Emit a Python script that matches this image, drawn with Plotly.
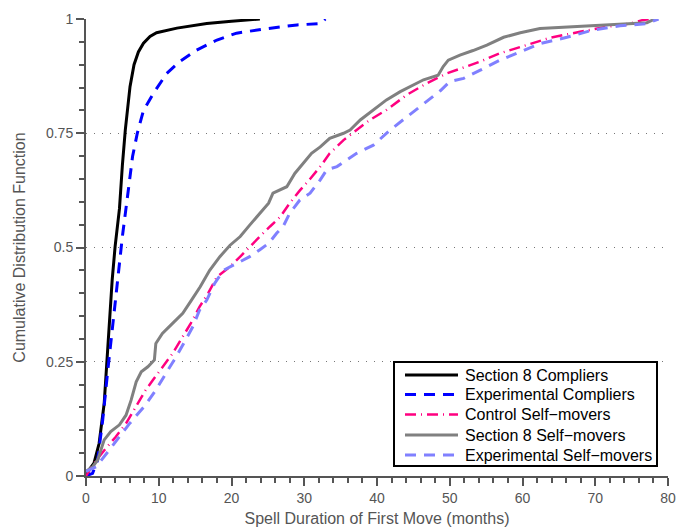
import plotly.graph_objects as go

# Section 8 Compliers
s8c_x = [0, 0.5, 1.1, 1.8, 2.5, 3.2, 3.6, 4.0, 4.6, 5.0, 5.4, 6.05, 6.6, 7.2, 7.9, 8.8, 9.7, 12.5, 16.6, 20.0, 23.9]
s8c_y = [0, 0.015, 0.028, 0.071, 0.159, 0.334, 0.429, 0.502, 0.585, 0.68, 0.757, 0.852, 0.90, 0.928, 0.947, 0.962, 0.970, 0.980, 0.990, 0.995, 1.0]

# Experimental Compliers
ec_x = [0, 0.9, 1.6, 2.3, 3.0, 3.75, 4.1, 4.6, 5.0, 5.7, 6.4, 7.05, 7.9, 9.25, 11.1, 12.9, 15.2, 18.0, 20.7, 24.4, 29.0, 32.2, 32.9]
ec_y = [0, 0.006, 0.035, 0.123, 0.232, 0.334, 0.392, 0.465, 0.524, 0.611, 0.699, 0.75, 0.80, 0.837, 0.881, 0.907, 0.932, 0.954, 0.969, 0.978, 0.987, 0.99, 1.0]

# Control Self-movers
cs_x = [0, 1.1, 2.7, 4.1, 5.5, 6.9, 8.2, 9.2, 10.5, 11.9, 13.3, 14.4, 15.6, 16.8, 18.0, 19.8, 21.2, 22.5, 23.9, 25.3, 26.7, 28.0, 29.4, 30.8, 32.2, 33.5, 35.4, 37.2, 39.0, 41.3, 44.1, 46.8, 49.6, 52.3, 54.2, 56.9, 60.6, 63.8, 67.9, 71.6, 74.8, 76.6, 77.5]
cs_y = [0, 0.028, 0.06, 0.086, 0.115, 0.152, 0.188, 0.21, 0.239, 0.268, 0.305, 0.334, 0.37, 0.40, 0.436, 0.458, 0.48, 0.502, 0.524, 0.546, 0.567, 0.597, 0.625, 0.65, 0.677, 0.706, 0.735, 0.757, 0.779, 0.801, 0.834, 0.859, 0.881, 0.896, 0.907, 0.925, 0.943, 0.959, 0.972, 0.983, 0.99, 0.998, 1.0]

# Section 8 Self-movers
s8s_x = [0, 0.9, 1.6, 2.5, 3.4, 4.6, 5.5, 6.2, 6.9, 7.6, 8.5, 9.4, 9.6, 10.5, 11.9, 13.3, 14.5, 15.7, 17.0, 18.4, 19.8, 21.2, 22.5, 23.9, 25.1, 25.7, 27.6, 28.7, 29.9, 31.0, 32.2, 33.5, 35.4, 36.3, 37.7, 39.5, 41.3, 43.2, 45.0, 46.4, 48.4, 49.1, 49.8, 51.4, 53.2, 55.1, 57.4, 59.7, 62.4, 67.0, 71.6, 76.2, 77.1, 78.2]
s8s_y = [0.01, 0.02, 0.035, 0.079, 0.097, 0.112, 0.133, 0.166, 0.206, 0.228, 0.239, 0.254, 0.29, 0.312, 0.334, 0.356, 0.385, 0.414, 0.45, 0.48, 0.505, 0.524, 0.549, 0.575, 0.597, 0.619, 0.633, 0.662, 0.684, 0.706, 0.72, 0.739, 0.75, 0.757, 0.779, 0.801, 0.823, 0.841, 0.856, 0.867, 0.877, 0.896, 0.910, 0.921, 0.931, 0.943, 0.96, 0.97, 0.979, 0.983, 0.987, 0.99, 0.992, 1.0]

# Experimental Self-movers
es_x = [0, 1.4, 3.2, 4.6, 6.0, 8.0, 9.6, 11.0, 12.4, 13.7, 14.7, 15.6, 16.6, 17.7, 18.9, 20.7, 22.5, 23.9, 25.1, 26.2, 27.1, 28.0, 29.4, 30.8, 32.2, 33.1, 34.5, 37.2, 39.5, 41.8, 44.1, 46.4, 48.7, 50.0, 51.9, 54.2, 56.9, 59.7, 62.4, 66.1, 69.7, 73.4, 77.1, 78.7]
es_y = [0.01, 0.02, 0.057, 0.086, 0.115, 0.152, 0.188, 0.225, 0.261, 0.298, 0.327, 0.363, 0.385, 0.422, 0.45, 0.465, 0.48, 0.495, 0.509, 0.531, 0.546, 0.575, 0.604, 0.619, 0.648, 0.67, 0.677, 0.706, 0.724, 0.757, 0.786, 0.815, 0.843, 0.863, 0.870, 0.888, 0.910, 0.928, 0.946, 0.96, 0.976, 0.985, 0.99, 1.0]

series_names = ["Section 8 Compliers", "Experimental Compliers", "Control Self\u2212movers",
                "Section 8 Self\u2212movers", "Experimental Self\u2212movers"]

y_tickvals = [0, 0.25, 0.5, 0.75, 1]
y_ticktext = ["0", "0.25", "0.5", "0.75", "1"]
x_tickvals = [0, 10, 20, 30, 40, 50, 60, 70, 80]

FONT = "Liberation Sans, Arial, sans-serif"
AX = "#555555"

styles = [
    dict(color="#000000", width=3),
    dict(color="#0000FF", width=3, dash="11px,8px"),
    dict(color="#FF0080", width=2.5, dash="11px,5px,1px,5px"),
    dict(color="#808080", width=3),
    dict(color="#8080FF", width=3, dash="11px,8px"),
]
data = [(s8c_x, s8c_y), (ec_x, ec_y), (cs_x, cs_y), (s8s_x, s8s_y), (es_x, es_y)]

fig = go.Figure()
for (xs, ys), name, st in zip(data, series_names, styles):
    fig.add_trace(go.Scatter(x=xs, y=ys, mode="lines", name=name, line=st, showlegend=False))

# Legend (box, line samples, labels) in paper coordinates of the plot area
PW, PH = 582.0, 457.0  # plot area size in px
def px_x(p):
    return (p - 86) / PW
def px_y(p):
    return (476 - p) / PH

fig.add_shape(type="rect", xref="paper", yref="paper",
              x0=px_x(394), x1=px_x(657), y0=px_y(466), y1=px_y(362),
              line=dict(color="black", width=2), fillcolor="white", layer="above")
row_y = [375, 394.5, 414.5, 435, 455]
for ry, name, st in zip(row_y, series_names, styles):
    fig.add_shape(type="line", xref="paper", yref="paper",
                  x0=px_x(405), x1=px_x(458), y0=px_y(ry), y1=px_y(ry),
                  line=st, layer="above")
    fig.add_annotation(xref="paper", yref="paper", x=px_x(463), y=px_y(ry),
                       xanchor="left", yanchor="middle", text=name, showarrow=False,
                       font=dict(family=FONT, color="black", size=16))

fig.update_layout(
    width=676, height=531,
    margin=dict(l=86, r=8, t=19, b=55, autoexpand=False),
    paper_bgcolor="white", plot_bgcolor="white",
    font=dict(family=FONT, color=AX, size=14),
    showlegend=False,
)
fig.update_xaxes(
    range=[0, 80], tickvals=x_tickvals, showgrid=False, zeroline=False, automargin=False,
    showline=True, linecolor=AX, linewidth=2,
    ticks="outside", ticklen=8, tickwidth=2, tickcolor=AX, ticklabeloverflow="allow",
    minor=dict(dtick=2, ticks="outside", ticklen=5, tickwidth=2, tickcolor=AX, showgrid=False),
    tickfont=dict(size=14, color=AX),
    title=dict(text="Spell Duration of First Move (months)", font=dict(size=16, color=AX), standoff=8),
)
fig.update_yaxes(
    range=[0, 1], tickvals=y_tickvals, ticktext=y_ticktext, automargin=False,
    showgrid=True, gridcolor="#777777", griddash="1px,7px", gridwidth=1, zeroline=False,
    showline=True, linecolor=AX, linewidth=2,
    ticks="outside", ticklen=8, tickwidth=2, tickcolor=AX,
    minor=dict(dtick=0.05, ticks="outside", ticklen=5, tickwidth=2, tickcolor=AX, showgrid=False),
    tickfont=dict(size=14, color=AX),
    title=dict(text="Cumulative Distribution Function", font=dict(size=16, color=AX), standoff=16),
)

fig.write_html(
    "out.html",
    config={"displayModeBar": False},
    post_script="document.body.style.margin='0';document.documentElement.style.overflow='hidden';document.body.style.overflow='hidden';",
)
